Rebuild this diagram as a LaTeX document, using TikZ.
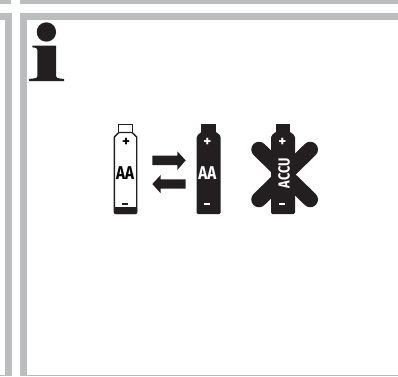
\documentclass[tikz,border=0pt]{standalone}
\usepackage{fontspec}
\setsansfont{Fira Sans}
\usepackage{xcolor}
\usetikzlibrary{positioning, calc}
\definecolor{barGray}{HTML}{BBBCBE}
\definecolor{inkBlack}{HTML}{231F20}

\begin{document}
\begin{tikzpicture}[x=1pt, y=-1pt,
  bar/.style={fill=barGray, draw=none},
  ink/.style={fill=inkBlack, draw=none},
  cell/.style={draw=inkBlack, line width=1.4pt, fill=white, line join=round},
  sign/.style={inner sep=0pt, font=\sffamily\bfseries\fontsize{15}{15}\selectfont},
  capt/.style={inner sep=0pt, font=\sffamily\bfseries\fontsize{18.5}{18.5}\selectfont, xscale=0.82, transform shape},
  crossarm/.style={draw=inkBlack, line width=15.5pt, line cap=round},
]
\useasboundingbox (0,0) rectangle (398,376);

% ---- Frame ----
\fill[bar] (0,0) rectangle (11,4);
\fill[bar] (20,0) rectangle (398,4);
\fill[bar] (0,13) rectangle (12,20);
\fill[bar] (20,13) rectangle (398,20);
\fill[bar] (5,13) rectangle (12,376);
\fill[bar] (20,13) rectangle (27,376);
\fill[bar] (27,374.6) rectangle (398,376);
\fill[bar] (0,375) rectangle (5,376);

% ---- Info sign ----
\fill[ink] (46.4,32) circle (9.7);
\fill[ink] (32.3,45.7) -- (56,45.7) -- (56,76) .. controls (56,78) and (58,78.5) .. (60,78.5)
  -- (64,79) -- (64,81) -- (29,81) -- (29,79) -- (33,78.5)
  .. controls (36,78.5) and (37.4,78) .. (37.4,76) -- (37.4,50)
  .. controls (37.4,48) and (36,47.6) .. (32.3,47.4) -- cycle;

% ---- Plain cell ----
\draw[draw=inkBlack, line width=1.2pt, fill=white] (118.8,132) -- (118.8,124.6) -- (132.6,124.6) -- (132.6,132);
\draw[cell] (114.3,137) -- (119,132.5) -- (132,132.5) -- (136.7,137)
  -- (136.7,211) [rounded corners=1.5pt] -- (136.7,213.4) -- (114.3,213.4) [sharp corners] -- (114.3,211) -- cycle;
\fill[ink, rounded corners=1pt] (114,207) rectangle (137,214);
\node[sign] (plainplus) at (126,142.7) {+};
\node[capt] (plainlabel) at (125,173.3) {AA};
\fill[ink] (121.5,203.2) rectangle (127.5,205.2);

% ---- Arrows ----
\fill[ink] (152.3,155.7) -- (177.3,155.7) -- (177.3,151.3) -- (185.7,160.4) -- (177.3,170) -- (177.3,165) -- (152.3,165) -- cycle;
\fill[ink] (185.7,179.3) -- (160.7,179.3) -- (160.7,175) -- (152.3,184) -- (160.7,193.3) -- (160.7,188.7) -- (185.7,188.7) -- cycle;

% ---- Charged cell ----
\fill[ink] (201,124) rectangle (216,133);
\fill[ink, rounded corners=1.5pt] (196.7,136) -- (201.5,131.7) -- (216,131.7) -- (220.7,136) -- (220.7,214.2) -- (196.7,214.2) -- cycle;
\node[sign, text=white] (aaplus) at (207.3,142.7) {+};
\node[capt, text=white] (aalabel) at (207.3,173.3) {AA};
\fill[white] (203.7,203.3) rectangle (209.7,205.3);

% ---- Crossed cell ----
\draw[crossarm] (259,149.5) -- (310.25,199.5);
\draw[crossarm] (310.25,149.5) -- (259,199.5);
\fill[ink] (276,124) rectangle (290,133);
\fill[ink, rounded corners=1.5pt] (271,136) -- (275.8,131.7) -- (290.2,131.7) -- (295,136) -- (295,214.2) -- (271,214.2) -- cycle;
\node[sign, text=white] (accuplus) at (282.3,142.7) {+};
\node[inner sep=0pt, text=white, rotate=90, font=\sffamily\bfseries\fontsize{16}{16}\selectfont, xscale=0.8, transform shape] (acculabel) at (284,173.3) {ACCU};
\fill[white] (278.7,203.3) rectangle (284.7,205.3);

\end{tikzpicture}
\end{document}
